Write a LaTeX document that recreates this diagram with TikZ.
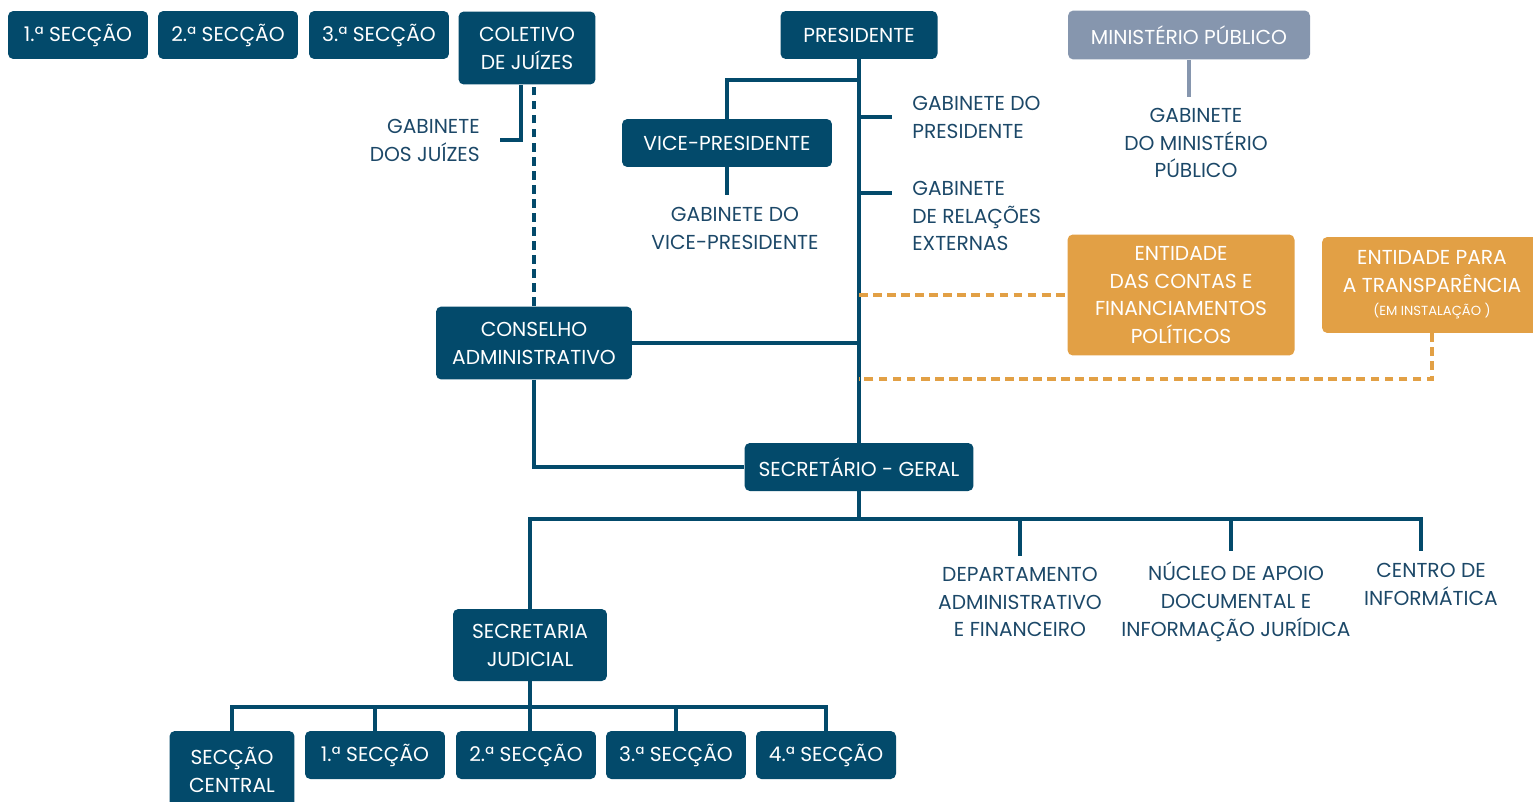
\documentclass[tikz,border=0pt]{standalone}
\usepackage{fontspec}
\setmainfont{Poppins}
\usepackage{tikz}
\usetikzlibrary{positioning}
\definecolor{azul}{RGB}{3,74,107}
\definecolor{cinza}{RGB}{134,150,174}
\definecolor{laranja}{RGB}{226,160,69}
\definecolor{textoazul}{RGB}{28,72,104}

\begin{document}
\begin{tikzpicture}[x=0.02cm, y=-0.02cm,
  caixa/.style={fill=#1, text=white, rounded corners=3pt, align=center,
    inner sep=0pt, font=\fontsize{11.5}{15.9}\selectfont},
  caixa/.default=azul,
  pequena/.style={minimum width=2.8cm, minimum height=0.96cm},
  rotulo/.style={text=textoazul, align=center, inner xsep=0.4cm,
    inner ysep=0.22cm, font=\fontsize{11.5}{15.9}\selectfont},
  linha/.style={draw=azul, line width=2pt},
  tracejado/.style={draw=laranja, line width=2pt, dash pattern=on 5pt off 3pt}
]
\path[use as bounding box, clip] (0,0) rectangle (1533,801);
% Secções e coletivo
\node[caixa, pequena] (sec1) at (78,35) {1.ª SECÇÃO};
\node[caixa, pequena] (sec2) at (228,35) {2.ª SECÇÃO};
\node[caixa, pequena] (sec3) at (379,35) {3.ª SECÇÃO};
\node[caixa, minimum width=2.74cm, minimum height=1.46cm] (colet) at (527,48) {COLETIVO\\DE JUÍZES};
\node[rotulo, anchor=east, align=right] (gdj) at (500,140) {GABINETE\\DOS JUÍZES};
% Presidência
\node[caixa, minimum width=3.14cm, minimum height=0.96cm] (pres) at (859,35) {PRESIDENTE};
\node[caixa, minimum width=4.2cm, minimum height=0.96cm] (vice) at (727,143) {VICE-PRESIDENTE};
\node[rotulo] (gvp) at (735,228) {GABINETE DO\\VICE-PRESIDENTE};
\node[rotulo, anchor=west, align=left] (gp) at (892,117) {GABINETE DO\\PRESIDENTE};
\node[rotulo, anchor=west, align=left] (gre) at (892,216) {GABINETE\\DE RELAÇÕES\\EXTERNAS};
% Ministério público
\node[caixa=cinza, minimum width=4.84cm, minimum height=0.98cm] (mp) at (1189,35) {MINISTÉRIO PÚBLICO};
\node[rotulo] (gmp) at (1196,143) {GABINETE\\DO MINISTÉRIO\\PÚBLICO};
% Entidades
\node[caixa=laranja, minimum width=4.54cm, minimum height=2.42cm] (econtas) at (1181,295) {ENTIDADE\\DAS CONTAS E\\FINANCIAMENTOS\\POLÍTICOS};
\node[caixa=laranja, minimum width=4.4cm, minimum height=1.92cm] (etransp) at (1432,285) {ENTIDADE PARA\\A TRANSPARÊNCIA\\[-0.1cm]{\fontsize{7.5}{9}\selectfont (EM INSTALAÇÃO )}};
% Conselho e secretário-geral
\node[caixa, minimum width=3.92cm, minimum height=1.46cm] (cons) at (534,343) {CONSELHO\\ADMINISTRATIVO};
\node[caixa, minimum width=4.58cm, minimum height=0.96cm] (secg) at (859,467) {SECRETÁRIO - GERAL};
\node[rotulo] (dept) at (1020,602) {DEPARTAMENTO\\ADMINISTRATIVO\\E FINANCEIRO};
\node[rotulo] (nucleo) at (1236,602) {NÚCLEO DE APOIO\\DOCUMENTAL E\\INFORMAÇÃO JURÍDICA};
\node[rotulo] (centro) at (1431,584) {CENTRO DE\\INFORMÁTICA};
% Secretaria judicial
\node[caixa, minimum width=3.08cm, minimum height=1.44cm] (sjud) at (530,645) {SECRETARIA\\JUDICIAL};
\node[caixa, minimum width=2.5cm, minimum height=1.56cm] (sc) at (232,770) {SECÇÃO\\CENTRAL};
\node[caixa, pequena] (js1) at (375,755) {1.ª SECÇÃO};
\node[caixa, pequena] (js2) at (526,755) {2.ª SECÇÃO};
\node[caixa, pequena] (js3) at (676,755) {3.ª SECÇÃO};
\node[caixa, pequena] (js4) at (826,755) {4.ª SECÇÃO};
% Ligações
\coordinate (ramovice) at (859,80);
\coordinate (tickre) at ([yshift=0.46cm]gre.west);
\coordinate (ligtransp) at (859,379);
\coordinate (barra) at (859,519);
\coordinate (barrasj) at (530,707);
\draw[linha] (pres.south) -- (secg.north);
\draw[linha] (vice.north) |- (ramovice);
\draw[linha] (vice.south) -- (vice.south |- gvp.north);
\draw[linha] (pres.south |- gp.west) -- (gp.west);
\draw[linha] (pres.south |- tickre) -- (tickre);
\draw[linha] (cons.east) -- (cons.east -| pres.south);
\draw[linha] (cons.south) |- (secg.west);
\draw[linha] ([xshift=-0.12cm]colet.south) |- (gdj.east);
\draw[linha, dash pattern=on 5pt off 3pt] (cons.north) -- (cons.north |- colet.south);
\draw[linha, draw=cinza] (mp.south) -- (mp.south |- gmp.north);
\draw[tracejado] (pres.south |- econtas.west) -- (econtas.west);
\draw[tracejado] (etransp.south) |- (ligtransp);
\draw[linha] (secg.south) -- (barra);
\draw[linha] (sjud.north) |- (barra);
\draw[linha] (barra) -| ([xshift=-0.2cm]centro.north);
\draw[linha] (dept.north) -- (dept.north |- barra);
\draw[linha] ([xshift=-0.1cm]nucleo.north) -- ([xshift=-0.1cm]nucleo.north |- barra);
\draw[linha] (sjud.south) -- (sjud.south |- js2.north);
\draw[linha] (sc.north) |- (barrasj) -| (js4.north);
\draw[linha] (js1.north) -- (js1.north |- barrasj);
\draw[linha] (js3.north) -- (js3.north |- barrasj);
\end{tikzpicture}
\end{document}
